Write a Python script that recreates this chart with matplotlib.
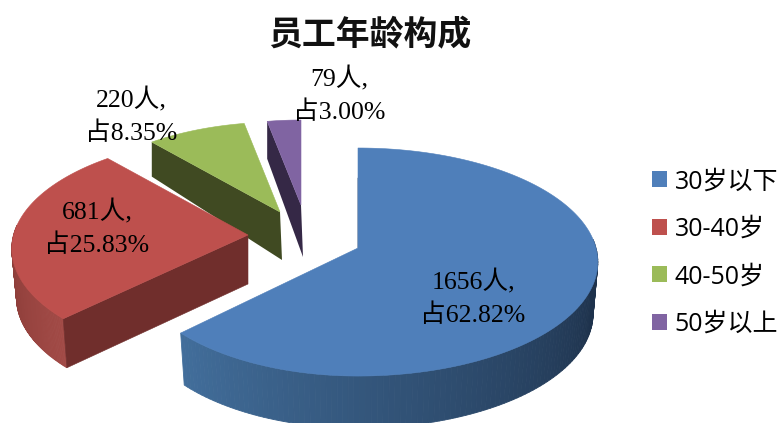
import numpy as np
import matplotlib
matplotlib.use("Agg")
import matplotlib.pyplot as plt
from matplotlib.patches import Patch

categories = ["30岁以下", "30-40岁", "40-50岁", "50岁以上"]
counts = [1656, 681, 220, 79]
percents = [62.82, 25.83, 8.35, 3.00]

face_colors = ["#4F7FBA", "#BE504D", "#9BBB59", "#8064A2"]
cut_colors = ["#1E3350", "#702E2C", "#404A22", "#352846"]
rim_near = [(66, 110, 155), (132, 56, 52), None, None]
rim_far = [(30, 50, 76), (162, 74, 70), None, None]
apexes = [(358, 248), (248, 235), (280, 212), (301, 205)]
radius_scale = [1.0, 0.985, 0.9, 0.85]
left_scale = [0.945, 1.0, 1.0, 1.0]
depths = [52, 49, 48, 52]
label_xy = [(473, 298), (97, 228), (131, 116), (339, 95)]

RX, RY, K = 238.0, 112.3, 0.123
TAPER = 0.02

fig = plt.figure(figsize=(7.81, 4.23), dpi=100)
ax = fig.add_axes([0, 0, 1, 1])
ax.set_xlim(0, 781)
ax.set_ylim(423, 0)
ax.axis("off")


def project(i, theta_deg):
    t = np.radians(theta_deg)
    u, v = np.sin(t), np.cos(t)
    w = 1 + K * v
    s = radius_scale[i]
    sx = np.where(u < 0, left_scale[i], 1.0)
    return apexes[i][0] + s * sx * RX * u / w, apexes[i][1] - s * RY * v / w


def lower(i, x, y):
    return x + (apexes[i][0] - x) * TAPER, y + depths[i]


edges = np.concatenate([[0], np.cumsum(percents)])
edges = edges / edges[-1] * 360

for i in [3, 2, 1, 0]:
    a, b = edges[i], edges[i + 1]
    thetas = np.linspace(a, b, 181)
    xs, ys = project(i, thetas)
    ax_, ay_ = apexes[i]
    d = depths[i]

    # visible outer wall
    if rim_near[i] is not None:
        vis = thetas[np.cos(np.radians(thetas)) < 0.1][::-1]
        n = len(vis) - 1
        span = 95 if i == 0 else n
        for j in range(n):
            f = min(j / max(span, 1), 1.0)
            col = [(rim_near[i][c] + (rim_far[i][c] - rim_near[i][c]) * f) / 255 for c in range(3)]
            x0, y0 = project(i, vis[j])
            x1, y1 = project(i, vis[j + 1])
            bx0, by0 = lower(i, x0, y0)
            bx1, by1 = lower(i, x1, y1)
            ax.fill([x0, x1, bx1, bx0], [y0, y1, by1, by0], color=col, lw=0.6, zorder=2 + (3 - i))

    # cut wall facing the viewer
    if i == 0:
        x0, y0 = project(0, 0)
        ax.fill([x0, ax_, ax_ + 1.5, x0 + 0.5], [y0 + 30, ay_, ay_, y0 + 30],
                color=cut_colors[0], lw=0.5, zorder=2)
    elif i == 1:
        ex, ey = xs[0], ys[0]
        bx, by = lower(i, ex, ey)
        ax.fill([ax_, ex, bx, ax_], [ay_, ey, by, ay_ + d],
                color=cut_colors[i], lw=0.4, zorder=2 + (3 - i) + 0.5)
    else:
        ex, ey = xs[0], ys[0]
        ax.fill([ax_, ex, ex, ax_ + 2], [ay_, ey, ey + d * 0.72, ay_ + d],
                color=cut_colors[i], lw=0, zorder=2 + (3 - i))

    # top face
    ax.fill(np.r_[ax_, xs], np.r_[ay_, ys], color=face_colors[i], lw=0.4, zorder=3 + (3 - i) + 0.5)

serif = ["Liberation Serif", "Noto Sans CJK SC"]
sans = ["Open Sans", "Noto Sans CJK SC"]

for i, (x, y) in enumerate(label_xy):
    ax.text(x, y, f"{counts[i]}人,\n占{percents[i]:.2f}%", family=serif, fontsize=18.5,
            ha="center", va="center", linespacing=1.5, color="black", zorder=20)

ax.text(370, 35, "员工年龄构成", family=["Noto Sans CJK SC"], fontsize=24.4, fontweight="bold",
        ha="center", va="center", color="#111111")

handles = [Patch(facecolor=c, edgecolor="none", label=l) for c, l in zip(face_colors, categories)]
ax.legend(handles=handles, loc="center left", bbox_to_anchor=(652, 253), bbox_transform=ax.transData,
          frameon=False, prop={"family": sans, "size": 18}, handlelength=0.6, handleheight=0.6,
          handletextpad=0.3, labelspacing=0.9, borderpad=0, borderaxespad=0)

fig.savefig("out.png", dpi=100)
